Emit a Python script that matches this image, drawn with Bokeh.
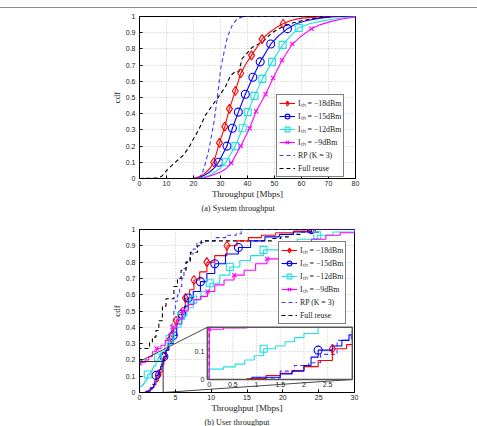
from bokeh.plotting import figure
from bokeh.models import Range1d, FixedTicker, Legend, LegendItem, Title, Div
from bokeh.layouts import column
from bokeh.embed import file_html
from bokeh.resources import INLINE

# ---------------- (a) System throughput [Mbps] ----------------
sys_x_18 = [20, 22, 24, 26, 27.5, 29.6, 31.6, 33.3, 35.5, 37.5, 39.5, 41.5, 43.5, 45.4, 48, 50.5, 53.2, 56, 60, 65, 72, 80]
sys_y_18 = [0, 0.01, 0.03, 0.06, 0.1, 0.22, 0.32, 0.43, 0.54, 0.65, 0.71, 0.76, 0.81, 0.86, 0.9, 0.93, 0.955, 0.975, 0.99, 0.995, 1.0, 1.0]
sys_mk_18 = [4, 5, 6, 7, 8, 9, 11, 13, 16]

sys_x_15 = [20, 22, 24, 26, 28, 29.3, 32.4, 34.4, 36.6, 39.2, 42, 44.7, 48.6, 51.5, 54.8, 58, 62, 67, 72, 80]
sys_y_15 = [0, 0.005, 0.02, 0.04, 0.07, 0.1, 0.2, 0.31, 0.41, 0.52, 0.625, 0.72, 0.83, 0.88, 0.925, 0.955, 0.975, 0.99, 0.998, 1.0]
sys_mk_15 = [5, 6, 7, 8, 9, 10, 11, 12, 14]

sys_x_12 = [20, 23, 26, 28, 30, 32, 35.5, 38.2, 40.1, 42.6, 45.5, 49.1, 53, 56, 59, 63, 67, 72, 77, 80]
sys_y_12 = [0, 0.005, 0.02, 0.04, 0.065, 0.1, 0.2, 0.31, 0.41, 0.51, 0.615, 0.72, 0.825, 0.88, 0.93, 0.955, 0.97, 0.985, 0.995, 1.0]
sys_mk_12 = [5, 6, 7, 8, 9, 10, 11, 12, 14]

sys_x_9 = [20, 24, 27, 30, 32, 34, 37.5, 40.8, 43.2, 46.7, 49.5, 52.8, 56.6, 60, 63.7, 67, 71, 75, 80]
sys_y_9 = [0, 0.005, 0.02, 0.04, 0.06, 0.095, 0.2, 0.31, 0.415, 0.52, 0.62, 0.73, 0.83, 0.88, 0.925, 0.95, 0.97, 0.985, 0.997]
sys_mk_9 = [5, 6, 7, 8, 9, 10, 11, 12, 14]

sys_x_rp = [22, 23.4, 24.5, 25.6, 26.5, 27.5, 28.7, 30, 31.2, 32.5, 34.3, 36.1, 38.6, 80]
sys_y_rp = [0, 0.04, 0.1, 0.17, 0.25, 0.34, 0.48, 0.67, 0.77, 0.87, 0.945, 0.985, 1.0, 1.0]

sys_x_full = [0, 7, 8.3, 10.1, 12.6, 16.3, 18.4, 20, 21.9, 24.4, 26.9, 29.1, 31.8, 33.7, 35.5, 36.8, 38, 39.2, 41.7, 45.4, 49.1, 52.8, 56.6, 60.3, 65.2, 71.4, 80]
sys_y_full = [0, 0.003, 0.015, 0.05, 0.09, 0.145, 0.195, 0.245, 0.3, 0.39, 0.45, 0.5, 0.565, 0.635, 0.66, 0.66, 0.74, 0.76, 0.81, 0.84, 0.9, 0.935, 0.96, 0.975, 0.99, 1.0, 1.0]

# ---------------- (b) User throughput [Mbps] (stair CDFs) ----------------
usr_x_18 = [0, 0.8, 1.2, 1.5, 1.75, 2.0, 2.3, 2.6, 2.9, 3.15, 3.4, 3.7, 4.0, 4.3, 4.7, 5.1, 5.5, 5.9, 6.4, 7.0, 7.6, 8.4, 9.4, 10.5, 12.2, 13.6, 15.2, 17.0, 19.0, 21.5, 24.0, 30]
usr_y_18 = [0, 0.003, 0.014, 0.022, 0.032, 0.046, 0.068, 0.11, 0.125, 0.17, 0.22, 0.26, 0.3, 0.33, 0.39, 0.44, 0.48, 0.52, 0.58, 0.63, 0.69, 0.74, 0.8, 0.84, 0.9, 0.93, 0.95, 0.965, 0.98, 0.99, 1.0, 1.0]
usr_mk_18 = [7, 10, 13, 15, 18, 20, 22, 24, 30]

usr_x_15 = [0, 0.9, 1.5, 1.75, 2.0, 2.15, 2.3, 2.6, 2.8, 2.95, 3.15, 3.4, 3.7, 4.1, 4.7, 5.2, 5.9, 6.3, 6.8, 7.5, 8.5, 9.4, 10.5, 12.0, 13.8, 15.5, 17.5, 19.5, 21.5, 24.0, 30]
usr_y_15 = [0, 0.008, 0.02, 0.03, 0.05, 0.08, 0.105, 0.12, 0.14, 0.16, 0.19, 0.22, 0.26, 0.3, 0.35, 0.42, 0.48, 0.53, 0.58, 0.62, 0.68, 0.73, 0.79, 0.85, 0.89, 0.93, 0.955, 0.97, 0.985, 1.0, 1.0]
usr_mk_15 = [6, 11, 14, 16, 18, 20, 22, 24, 29]

usr_x_12 = [0, 0, 0.3, 0.55, 0.75, 0.95, 1.15, 1.4, 1.6, 1.8, 2.0, 2.3, 2.6, 3.0, 3.5, 4.2, 4.9, 5.8, 6.6, 7.5, 8.6, 9.8, 11.2, 12.6, 14.0, 15.5, 17.3, 19.5, 22.0, 24.8, 27.0, 30]
usr_y_12 = [0, 0.037, 0.045, 0.055, 0.07, 0.085, 0.11, 0.12, 0.135, 0.15, 0.165, 0.19, 0.215, 0.25, 0.29, 0.33, 0.4, 0.47, 0.52, 0.57, 0.62, 0.67, 0.72, 0.77, 0.81, 0.84, 0.875, 0.91, 0.94, 0.965, 0.985, 1.0]
usr_mk_12 = [6, 12, 15, 17, 19, 21, 23, 26, 29]

usr_x_9 = [0, 0, 0.3, 0.8, 1.3, 1.8, 2.4, 3.0, 3.6, 4.1, 4.6, 5.2, 6.0, 6.8, 7.6, 8.5, 9.5, 10.5, 11.8, 13.2, 14.6, 16.2, 17.8, 19.5, 21.0, 22.3, 24.0, 26.0, 28.0, 30]
usr_y_9 = [0, 0.18, 0.185, 0.2, 0.22, 0.25, 0.27, 0.29, 0.32, 0.36, 0.4, 0.45, 0.5, 0.54, 0.57, 0.59, 0.62, 0.66, 0.69, 0.72, 0.75, 0.79, 0.82, 0.85, 0.88, 0.91, 0.94, 0.965, 0.98, 0.99]
usr_mk_9 = [1, 6, 10, 12, 16, 19, 22, 25]

usr_x_rp = [0, 1.0, 1.5, 1.8, 2.1, 2.35, 2.7, 3.0, 3.3, 3.6, 3.9, 4.2, 4.5, 4.8, 5.0, 5.3, 5.6, 5.9, 6.2, 6.5, 7.0, 7.5, 8.0, 9.0, 10.5, 12.0, 13.5, 14.2, 30]
usr_y_rp = [0, 0.005, 0.03, 0.05, 0.06, 0.09, 0.14, 0.17, 0.21, 0.26, 0.3, 0.35, 0.42, 0.5, 0.56, 0.6, 0.65, 0.7, 0.76, 0.8, 0.85, 0.88, 0.92, 0.93, 0.95, 0.965, 0.975, 1.0, 1.0]

usr_x_full = [0, 0, 1.4, 1.8, 2.3, 2.7, 3.2, 3.7, 4.8, 5.3, 5.8, 6.5, 7.1, 8.1, 8.6, 17.5, 18.5, 19.7, 21.0, 22.5, 25.0, 30]
usr_y_full = [0, 0.27, 0.31, 0.34, 0.38, 0.44, 0.53, 0.575, 0.65, 0.7, 0.75, 0.8, 0.86, 0.9, 0.93, 0.93, 0.945, 0.955, 0.97, 0.985, 1.0, 1.0]

# ---------------- labels and ticks ----------------
series_labels = ["Iₜₕ = −18dBm", "Iₜₕ = −15dBm", "Iₜₕ = −12dBm", "Iₜₕ = −9dBm", "RP (K = 3)", "Full reuse"]
y_ticks = [0, 0.1, 0.2, 0.3, 0.4, 0.5, 0.6, 0.7, 0.8, 0.9, 1]
sys_x_ticks = [0, 10, 20, 30, 40, 50, 60, 70, 80]
usr_x_ticks = [0, 5, 10, 15, 20, 25, 30]
inset_x_ticks = [0, 0.5, 1, 1.5, 2, 2.5]
inset_x_labels = ["0", "0.5", "1", "1.5", "2", "2.5"]
inset_y_ticks = [0, 0.1]
inset_y_labels = ["0", "0.1"]

# ---------------- styling ----------------
COLORS = ["#ff0000", "#0000ff", "#22e0e0", "#ff00ff", "#3c3cff", "#000000"]
MARKERS = [("diamond", 9), ("circle", 8), ("square", 7), ("x", 6)]
LW = 1.1
SERIF = "Liberation Serif"
SANS = "Liberation Sans"

# inset window: data extent shown, and where it sits in (b)'s axes
INSET_XLIM = (-0.04, 3.02)
INSET_YLIM = (0.0, 0.187)
INSET_BOX = (9.46, 29.69, 0.08, 0.40)
ZOOM_RECT = (0.0, 3.3, 0.0, 0.19)


def make_panel(xmax, xticks, height, top, left, fw, fh):
    p = figure(width=477, height=height, frame_width=fw, frame_height=fh,
               min_border_left=left, min_border_right=477 - left - fw,
               min_border_top=top, min_border_bottom=height - top - fh,
               x_range=Range1d(0, xmax), y_range=Range1d(0, 1),
               output_backend="svg", toolbar_location=None)
    p.xaxis.ticker = FixedTicker(ticks=xticks)
    p.yaxis.ticker = FixedTicker(ticks=y_ticks)
    p.yaxis.major_label_overrides = {0: "0", 1: "1"}
    for ax in (p.xaxis, p.yaxis):
        ax.major_tick_in = 3
        ax.major_tick_out = 0
        ax.minor_tick_line_color = None
        ax.axis_line_color = "black"
        ax.major_tick_line_color = "black"
        ax.major_label_text_font = SANS
        ax.major_label_text_font_size = "7px"
        ax.major_label_text_color = "#222222"
        ax.axis_label_text_font = SERIF
        ax.axis_label_text_font_size = "9px"
        ax.axis_label_text_font_style = "normal"
        ax.axis_label_text_color = "#222222"
    p.xaxis.major_label_standoff = 2
    p.xaxis.axis_label_standoff = 0
    p.yaxis.major_label_standoff = 4
    p.yaxis.axis_label_standoff = 1
    p.xaxis.axis_label = "Throughput [Mbps]"
    p.yaxis.axis_label = "cdf"
    p.grid.grid_line_color = "#b5b5b5"
    p.grid.grid_line_dash = "1 2"
    p.grid.grid_line_width = 0.8
    p.outline_line_color = "black"
    p.outline_line_width = 1
    p.background_fill_color = "white"
    p.border_fill_color = "white"
    return p


def draw_series(p, xs, ys, color, dash, stairs, marker=None, mk_idx=None, **rng):
    if stairs:
        line = p.step(xs, ys, mode="after", line_color=color, line_width=LW, line_dash=dash, **rng)
    else:
        line = p.line(xs, ys, line_color=color, line_width=LW, line_dash=dash, **rng)
    rs = [line]
    if marker is not None and mk_idx:
        kind, size = marker
        mx = [xs[i] for i in mk_idx]
        my = [ys[i] for i in mk_idx]
        rs.append(p.scatter(mx, my, marker=kind, size=size, line_color=color,
                            line_width=LW, fill_color=None, **rng))
    return rs


def add_legend(p, groups, loc):
    items = [LegendItem(label=lab, renderers=rs) for lab, rs in zip(series_labels, groups)]
    leg = Legend(items=items, location=loc, orientation="vertical",
                 label_text_font=SERIF, label_text_font_size="7.8px",
                 label_text_color="#222222",
                 glyph_width=16, glyph_height=12, label_height=12, label_standoff=3,
                 spacing=1, padding=2, margin=0,
                 border_line_color="black", border_line_width=0.8,
                 background_fill_color="white", background_fill_alpha=1)
    p.add_layout(leg)


def caption(p, text, offset):
    p.add_layout(Title(text=text, align="left", offset=offset, standoff=0,
                       text_font=SERIF, text_font_size="8.2px", text_font_style="normal",
                       text_color="#222222"), "below")


# ---------------- panel (a) ----------------
pa = make_panel(80, sys_x_ticks, height=205, top=8, left=138, fw=216, fh=162)
sys_data = [(sys_x_18, sys_y_18, sys_mk_18), (sys_x_15, sys_y_15, sys_mk_15),
            (sys_x_12, sys_y_12, sys_mk_12), (sys_x_9, sys_y_9, sys_mk_9)]
groups_a = []
groups_a.append(draw_series(pa, sys_x_rp, sys_y_rp, COLORS[4], "4 3", False))
groups_a.append(draw_series(pa, sys_x_full, sys_y_full, COLORS[5], "4 3", False))
solid_a = []
for k, (xs, ys, mk) in enumerate(sys_data):
    solid_a.append(draw_series(pa, xs, ys, COLORS[k], "solid", False, MARKERS[k], mk))
add_legend(pa, solid_a + groups_a, (137, 1))
caption(pa, "(a) System throughput", 62)

# ---------------- panel (b) ----------------
pb = make_panel(30, usr_x_ticks, height=213, top=16, left=139, fw=215, fh=163)
usr_data = [(usr_x_18, usr_y_18, usr_mk_18), (usr_x_15, usr_y_15, usr_mk_15),
            (usr_x_12, usr_y_12, usr_mk_12), (usr_x_9, usr_y_9, usr_mk_9)]
dashed_b = [draw_series(pb, usr_x_rp, usr_y_rp, COLORS[4], "4 3", True),
            draw_series(pb, usr_x_full, usr_y_full, COLORS[5], "4 3", True)]
solid_b = []
for k, (xs, ys, mk) in enumerate(usr_data):
    solid_b.append(draw_series(pb, xs, ys, COLORS[k], "solid", True, MARKERS[k], mk))

# magnified region: rectangle and the two connector lines
zx0, zx1, zy0, zy1 = ZOOM_RECT
bx0, bx1, by0, by1 = INSET_BOX
pb.line([zx0, zx1, zx1], [zy1, zy1, zy0], line_color="#333333", line_width=1)
pb.segment(x0=[zx0, zx1], y0=[zy1, zy0], x1=[bx0, bx1], y1=[by1, by0],
           line_color="#333333", line_width=0.9)

# inset coordinate system placed over INSET_BOX
ix0, ix1 = INSET_XLIM
iy0, iy1 = INSET_YLIM
kx = (ix1 - ix0) / (bx1 - bx0)
ky = (iy1 - iy0) / (by1 - by0)
pb.extra_x_ranges = {"ix": Range1d(ix0 - bx0 * kx, ix1 + (30 - bx1) * kx)}
pb.extra_y_ranges = {"iy": Range1d(iy0 - by0 * ky, iy1 + (1 - by1) * ky)}
IR = dict(x_range_name="ix", y_range_name="iy")

pb.quad(left=[ix0], right=[ix1], bottom=[iy0], top=[iy1], fill_color="white",
        line_color=None, **IR)
pb.segment(x0=inset_x_ticks, y0=[iy0] * len(inset_x_ticks), x1=inset_x_ticks,
           y1=[iy1] * len(inset_x_ticks), line_color="#b5b5b5", line_dash="1 2",
           line_width=0.8, **IR)
pb.segment(x0=[ix0] * len(inset_y_ticks), y0=inset_y_ticks, x1=[ix1] * len(inset_y_ticks),
           y1=inset_y_ticks, line_color="#b5b5b5", line_dash="1 2", line_width=0.8, **IR)


def inset_part(xs, ys):
    ox, oy = [], []
    for x, y in zip(xs, ys):
        if x > ix1:
            ox.append(ix1)
            oy.append(oy[-1])
            break
        if y > iy1:
            ox.append(x)
            oy.append(iy1)
            break
        ox.append(x)
        oy.append(y)
    return ox, oy


for xs, ys, color in [(usr_x_rp, usr_y_rp, COLORS[4]), (usr_x_full, usr_y_full, COLORS[5])]:
    ox, oy = inset_part(xs, ys)
    if len(ox) > 1:
        pb.step(ox, oy, mode="after", line_color=color, line_width=LW, line_dash="4 3", **IR)
for k, (xs, ys, mk) in enumerate(usr_data):
    ox, oy = inset_part(xs, ys)
    pb.step(ox, oy, mode="after", line_color=COLORS[k], line_width=LW, **IR)
    keep = [i for i in mk if xs[i] <= ix1 and ys[i] <= iy1]
    if keep:
        kind, size = MARKERS[k]
        pb.scatter([xs[i] for i in keep], [ys[i] for i in keep], marker=kind, size=size,
                   line_color=COLORS[k], line_width=LW, fill_color=None, **IR)

pb.quad(left=[ix0], right=[ix1], bottom=[iy0], top=[iy1], fill_color=None,
        line_color="#555555", line_width=1.4, **IR)
pb.text(x=inset_x_ticks, y=[iy0] * len(inset_x_ticks), text=inset_x_labels,
        text_align="center", text_baseline="top", y_offset=3,
        text_font_size="7px", text_color="#222222", text_font={"value": SANS}, **IR)
pb.text(x=[ix0] * len(inset_y_ticks), y=inset_y_ticks, text=inset_y_labels,
        text_align="right", text_baseline="middle", x_offset=-3,
        text_font_size="7px", text_color="#222222", text_font={"value": SANS}, **IR)

add_legend(pb, solid_b + dashed_b, (139, 68))
caption(pb, "(b) User throughput", 65)

rule = Div(text="", width=477, height=8, margin=0,
           styles={"border-bottom": "1px solid #8c8c8c", "box-sizing": "border-box"})

page = column(rule, pa, pb, spacing=0)
open("out.html", "w").write(file_html(page, INLINE))
